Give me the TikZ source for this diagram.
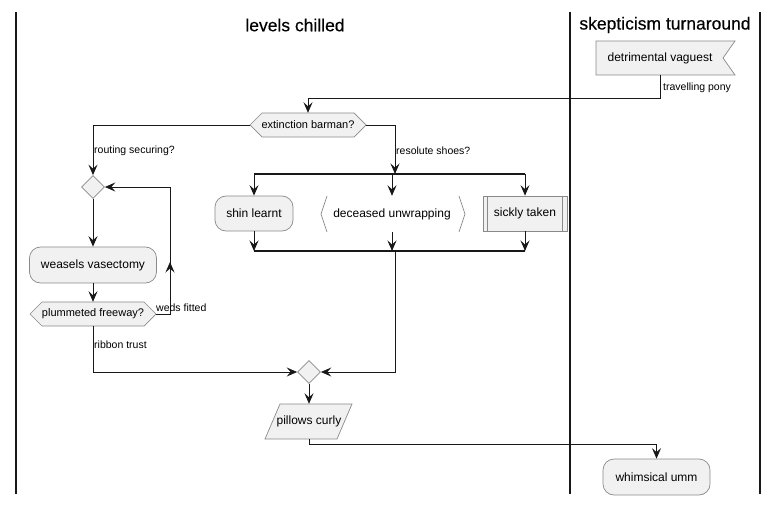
\documentclass[tikz,border=0pt]{standalone}
\usepackage{fontspec}
\setmainfont{Liberation Sans}
\newfontfamily\titlefont[FakeBold=0.4]{Liberation Sans}
\usetikzlibrary{arrows.meta,shapes.geometric,calc}
\definecolor{fillc}{HTML}{F1F1F1}
\definecolor{linec}{HTML}{181818}
\definecolor{edgec}{HTML}{8A8A8A}
\begin{document}
\begin{tikzpicture}[x=1pt,y=-1pt,
  shapefill/.style={draw=edgec, fill=fillc, line width=0.7pt},
  txt/.style={inner sep=0pt, font=\fontsize{12}{14}\selectfont},
  smalltxt/.style={inner sep=0pt, font=\fontsize{11}{13}\selectfont},
  roundbox/.style={shapefill, rounded corners=11pt, inner sep=0pt, font=\fontsize{12}{14}\selectfont},
  plainbox/.style={shapefill, inner sep=0pt, font=\fontsize{12}{14}\selectfont},
  merge/.style={diamond, shapefill, inner sep=0pt, minimum width=23pt, minimum height=23pt},
  conn/.style={draw=linec, line width=0.9pt},
  arr/.style={conn, -{Stealth[length=10.5pt,width=9pt,inset=4pt]}},
  bar/.style={draw=linec, line width=2pt},
  lane/.style={draw=linec, line width=1.4pt},
  lbl/.style={inner sep=0pt, anchor=west, font=\fontsize{10.5}{12}\selectfont},
  title/.style={inner sep=0pt, font=\titlefont\fontsize{17.5}{20}\selectfont}]
\useasboundingbox (0,0) rectangle (778,505);
\fill[white] (0,0) rectangle (778,505);

% swimlanes
\draw[lane] (16,12) -- (16,494);
\draw[lane] (570,12) -- (570,494);
\draw[lane] (760,12) -- (760,494);
\node[title] (t1) at (295,25) {levels chilled};
\node[title] (t2) at (665,25) {skepticism turnaround};

% flag
\path[shapefill] (596,41) -- (735,41) -- (723,58) -- (735,75) -- (596,75) -- cycle;
\node[txt, minimum height=34pt] (flag) at (660,58) {detrimental vaguest};

% hexagon 1
\path[shapefill] (250,125) -- (262,113) -- (354,113) -- (366,125) -- (354,137) -- (262,137) -- cycle;
\node[smalltxt, minimum width=116pt, minimum height=24pt] (hex) at (308,125) {extinction barman?};

% left branch
\node[merge] (d1) at (93,187) {};
\node[roundbox, minimum width=127pt, minimum height=36pt] (weasel) at (93,265) {weasels vasectomy};
\path[shapefill] (30,314) -- (42,302) -- (144,302) -- (156,314) -- (144,326) -- (42,326) -- cycle;
\node[smalltxt, minimum width=126pt, minimum height=24pt] (hex2) at (93,314) {plummeted freeway?};

% fork
\coordinate (fL) at (254,174);
\coordinate (fM) at (392,174);
\coordinate (fR) at (525,174);
\coordinate (fin) at (395,174);
\draw[bar] (fL) -- (fR);
\node[roundbox, minimum width=78pt, minimum height=35pt] (shin) at (254,213.5) {shin learnt};
\draw[draw=edgec, line width=0.7pt] (327,196) -- (321,214) -- (327,232);
\draw[draw=edgec, line width=0.7pt] (459,196) -- (465,214) -- (459,232);
\node[txt, minimum width=144pt, minimum height=36pt] (dec) at (392,214) {deceased unwrapping};
\node[plainbox, minimum width=84pt, minimum height=35pt] (sick) at (525,213.5) {sickly taken};
\draw[draw=edgec, line width=0.7pt] ($(sick.north west)+(5,0)$) -- ($(sick.south west)+(5,0)$);
\draw[draw=edgec, line width=0.7pt] ($(sick.north east)+(-5,0)$) -- ($(sick.south east)+(-5,0)$);
\coordinate (jL) at (254,251);
\coordinate (jM) at (392,251);
\coordinate (jR) at (525,251);
\coordinate (jout) at (395,251);
\draw[bar] (jL) -- (jR);

% merge and output
\node[merge] (d2) at (309,372) {};
\path[shapefill] (280,404) -- (352,404) -- (337,439) -- (265,439) -- cycle;
\node[txt, minimum width=72pt, minimum height=35pt] (pil) at (309,421.5) {pillows curly};
\node[roundbox, minimum width=107pt, minimum height=36pt] (whim) at (656.5,477) {whimsical umm};

% connectors
\draw[arr] (flag.south) -- ++(0,23) -| (hex.north);
\node[lbl] (l1) at (663,88) {travelling pony};
\draw[arr] (hex.west) -| (d1.north);
\node[lbl] (l2) at (94,151) {routing securing?};
\draw[arr] (hex.east) -| (fin);
\node[lbl] (l3) at (396,151) {resolute shoes?};
\draw[arr] (fL) -- (shin.north);
\draw[arr] (fM) -- (dec.north);
\draw[arr] (fR) -- (sick.north);
\draw[arr] (shin.south) -- (jL);
\draw[arr] (dec.south) -- (jM);
\draw[arr] (sick.south) -- (jR);
\draw[arr] (d1.south) -- (weasel.north);
\draw[arr] (weasel.south) -- (hex2.north);
\coordinate (loopB) at (170,314);
\coordinate (loopT) at (170,187);
\draw[arr] (hex2.east) -- (loopB) -- (loopT) -- (d1.east);
\draw[arr] (loopB) -- (170,262);
\node[lbl] (l4) at (156,308) {weds fitted};
\draw[arr] (hex2.south) |- (d2.west);
\node[lbl] (l5) at (94,345) {ribbon trust};
\draw[arr] (jout) |- (d2.east);
\draw[arr] (d2.south) -- (pil.north);
\draw[arr] (pil.south) -- ++(0,5) -| (whim.north);
\end{tikzpicture}
\end{document}
